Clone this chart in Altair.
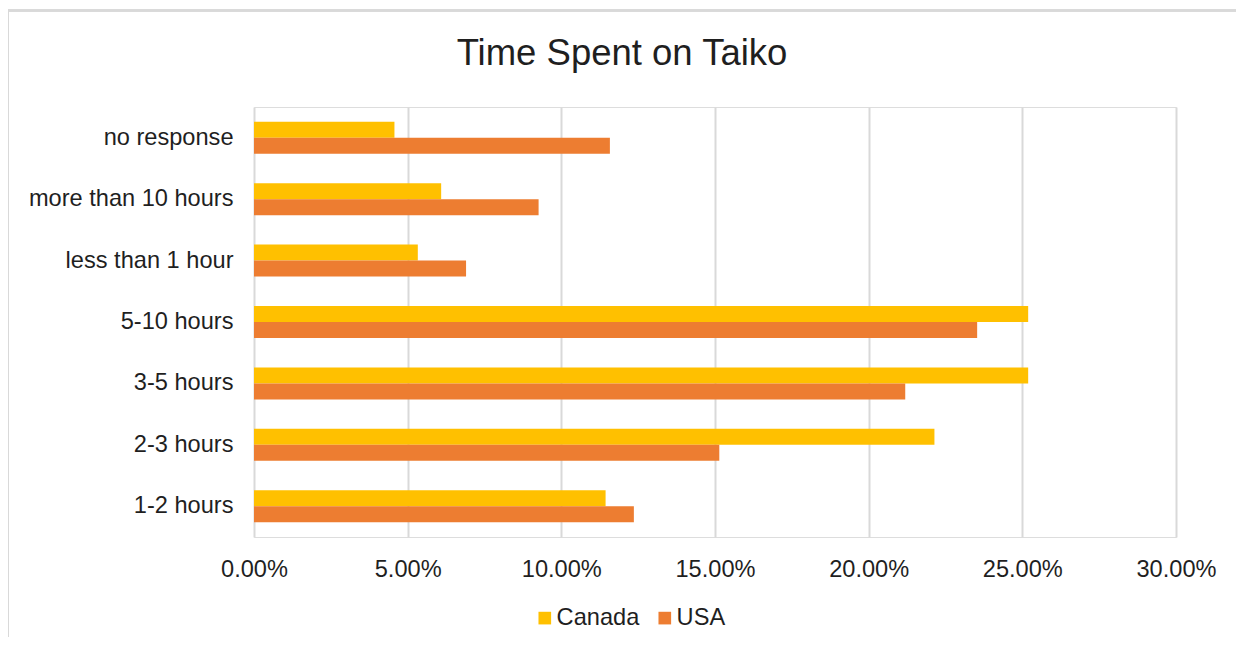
import altair as alt
import pandas as pd

categories = ["no response", "more than 10 hours", "less than 1 hour",
              "5-10 hours", "3-5 hours", "2-3 hours", "1-2 hours"]
canada = [0.0457, 0.0609, 0.0533, 0.2519, 0.2519, 0.2214, 0.1144]
usa = [0.1158, 0.0926, 0.0690, 0.2353, 0.2119, 0.1514, 0.1236]
series = ["Canada", "USA"]
x_ticks = [0, 0.05, 0.10, 0.15, 0.20, 0.25, 0.30]

rows = []
for i, c in enumerate(categories):
    rows.append({"cat": c, "series": "Canada", "value": canada[i]})
    rows.append({"cat": c, "series": "USA", "value": usa[i]})
df = pd.DataFrame(rows)

FONT = "Liberation Sans"
TXT = "#1f1f1f"
FS = 23.6
W, H = 922, 430

bars = alt.Chart(df).mark_bar().encode(
    x=alt.X("value:Q", scale=alt.Scale(domain=[0, 0.30], nice=False),
            axis=alt.Axis(values=x_ticks, format=".2%", title=None, grid=True,
                          gridColor="#d9d9d9", gridWidth=2, domain=False, ticks=False,
                          labelFontSize=FS, labelFont=FONT, labelColor=TXT,
                          labelPadding=20, labelFlush=False)),
    y=alt.Y("cat:N", sort=categories,
            scale=alt.Scale(paddingInner=0.479, paddingOuter=0.2395),
            axis=alt.Axis(title=None, domain=False, ticks=False, grid=False,
                          labelFontSize=FS, labelFont=FONT, labelColor=TXT,
                          labelPadding=21, labelLimit=400)),
    yOffset=alt.YOffset("series:N", sort=series),
    color=alt.Color("series:N", sort=series,
                    scale=alt.Scale(domain=series, range=["#FFC000", "#ED7D31"]),
                    legend=alt.Legend(title=None, orient="none", direction="horizontal",
                                      legendX=279, legendY=499,
                                      symbolType="square", symbolSize=160,
                                      symbolStrokeWidth=0,
                                      labelFontSize=FS, labelFont=FONT, labelColor=TXT,
                                      labelOffset=0, columnPadding=13)),
)

frame_left = alt.Chart(df).mark_rule(color="#d9d9d9", strokeWidth=2).encode(
    x=alt.value(-246), y=alt.value(-96.5), y2=alt.value(700))
frame_top = alt.Chart(df).mark_rule(color="#d9d9d9", strokeWidth=2).encode(
    x=alt.value(-246), x2=alt.value(1300), y=alt.value(-96.5))

chart = alt.layer(frame_left, frame_top, bars).properties(
    width=W, height=H,
    title=alt.TitleParams("Time Spent on Taiko", fontSize=36.5, font=FONT,
                          color=TXT, fontWeight="normal", anchor="middle",
                          frame="group", dx=-93, offset=35, dy=98),
    autosize=alt.AutoSizeParams(type="none"),
    padding={"left": 246, "top": 99, "right": 60, "bottom": 100},
).configure_view(stroke=None).configure(background="white")

chart.save("out.html", embed_options={"renderer": "svg", "actions": False})
